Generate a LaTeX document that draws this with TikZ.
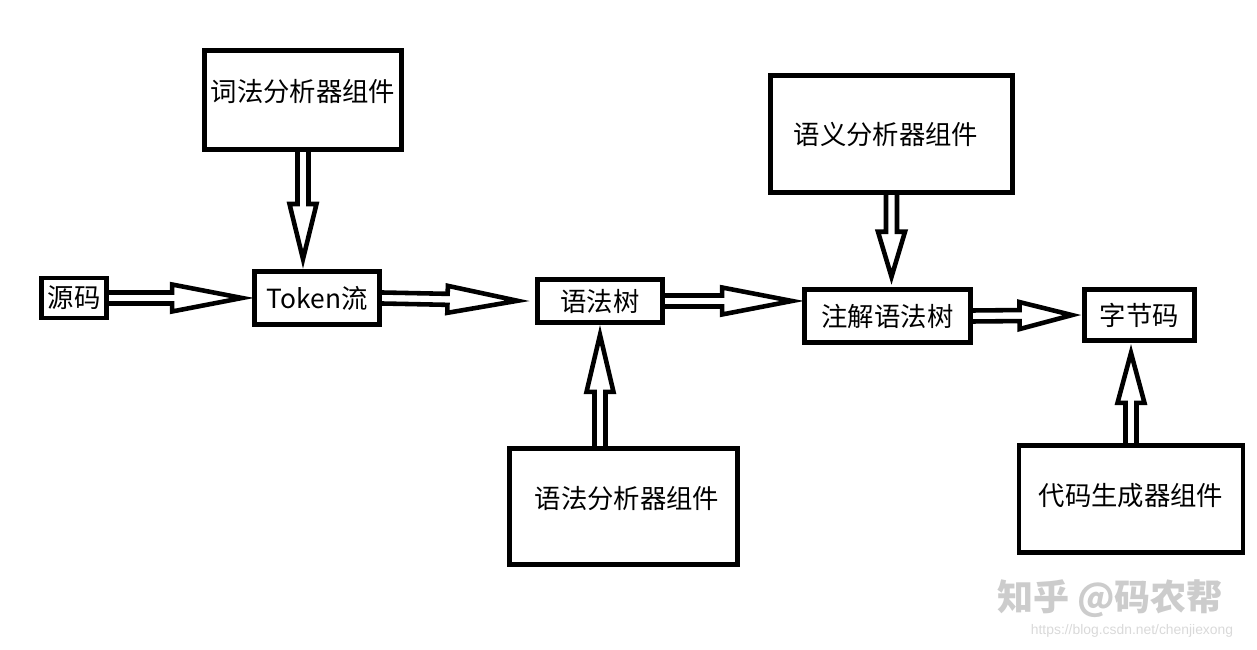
\documentclass[tikz,border=0pt]{standalone}
\usepackage{fontspec}
\setmainfont{Noto Sans CJK SC}
\newfontfamily\urlfont{Liberation Sans}
\usetikzlibrary{calc, positioning}
\tikzset{
box/.style={draw, rectangle, line width=2.8pt, inner sep=0pt}, % black frame of every part
fat/.style={line width=2.6pt, line join=miter}, % hollow double arrow
}
% hollow arrow: [head length in cm]{from}{to}
\newcommand{\fatarrow}[3][1.3]{%
  \coordinate (fa-s) at (#2);
  \coordinate (fa-e) at (#3);
  \coordinate (fa-t) at ($(fa-e)!0.2cm!(fa-s)$);
  \coordinate (fa-b) at ($(fa-t)!#1cm!(fa-s)$);
  \draw[fat] ($(fa-s)!0.11cm!90:(fa-t)$) -- ($(fa-b)!0.11cm!-90:(fa-s)$)
    -- ($(fa-b)!0.27cm!-90:(fa-s)$) -- (fa-t) -- ($(fa-b)!0.27cm!90:(fa-s)$)
    -- ($(fa-b)!0.11cm!90:(fa-s)$) -- ($(fa-s)!0.11cm!-90:(fa-t)$);
}

\begin{document}
\begin{tikzpicture}[font=\fontsize{15}{18}\selectfont]
    \useasboundingbox (0,0) rectangle (25.14,13);
    % main chain
    \node[box, minimum width=1.31cm, minimum height=0.8cm] (src) at (1.48,7.04) {源码};
    \node[box, minimum width=2.5cm, minimum height=1.06cm] (tok) at (6.34,7.04) {Token流};
    \node[box, minimum width=2.5cm, minimum height=0.86cm] (syn) at (12.0,6.98) {语法树};
    \node[box, minimum width=3.32cm, minimum height=1.07cm] (ann) at (17.75,6.68) {注解语法树};
    \node[box, minimum width=2.2cm, minimum height=1.02cm] (byte) at (22.79,6.7) {字节码};
    % components
    \node[box, minimum width=3.94cm, minimum height=1.99cm] (lex) at (6.06,11.0) {};
    \node (lex-t) at ([yshift=0.16cm]lex.center) {词法分析器组件};
    \node[box, minimum width=4.84cm, minimum height=2.34cm] (sem) at (17.83,10.32) {};
    \node (sem-t) at ([xshift=-0.11cm]sem.center) {语义分析器组件};
    \node[box, minimum width=4.56cm, minimum height=2.32cm] (par) at (12.47,2.87) {};
    \node (par-t) at ([xshift=0.07cm, yshift=0.16cm]par.center) {语法分析器组件};
    \node[box, minimum width=4.48cm, minimum height=2.15cm] (gen) at (22.62,3.02) {};
    \node (gen-t) at ([yshift=0.06cm]gen.center) {代码生成器组件};

    \fatarrow[1.4]{src.east}{tok.west}
    \fatarrow[1.4]{tok.east}{$(syn.west)+(-0.15,0)$}
    \fatarrow[1.4]{syn.east}{ann.west |- syn.east}
    \fatarrow[1.05]{ann.east}{byte.west}
    \fatarrow[1.1]{lex.south}{tok.north -| lex.south}
    \fatarrow[0.9]{sem.south}{ann.north -| sem.south}
    \fatarrow[1.14]{par.north -| syn.south}{syn.south}
    \fatarrow[1.0]{gen.north}{byte.south -| gen.north}

    % watermark
    \node[text=gray!40, font=\fontsize{20.5}{24}\bfseries] (mark) at (22.2,1.02) {知乎 @码农帮};
    \node[text=gray!30, font=\fontsize{7.9}{9}\urlfont] (url) at (22.64,0.38) {https://blog.csdn.net/chenjiexong};
\end{tikzpicture}
\end{document}
